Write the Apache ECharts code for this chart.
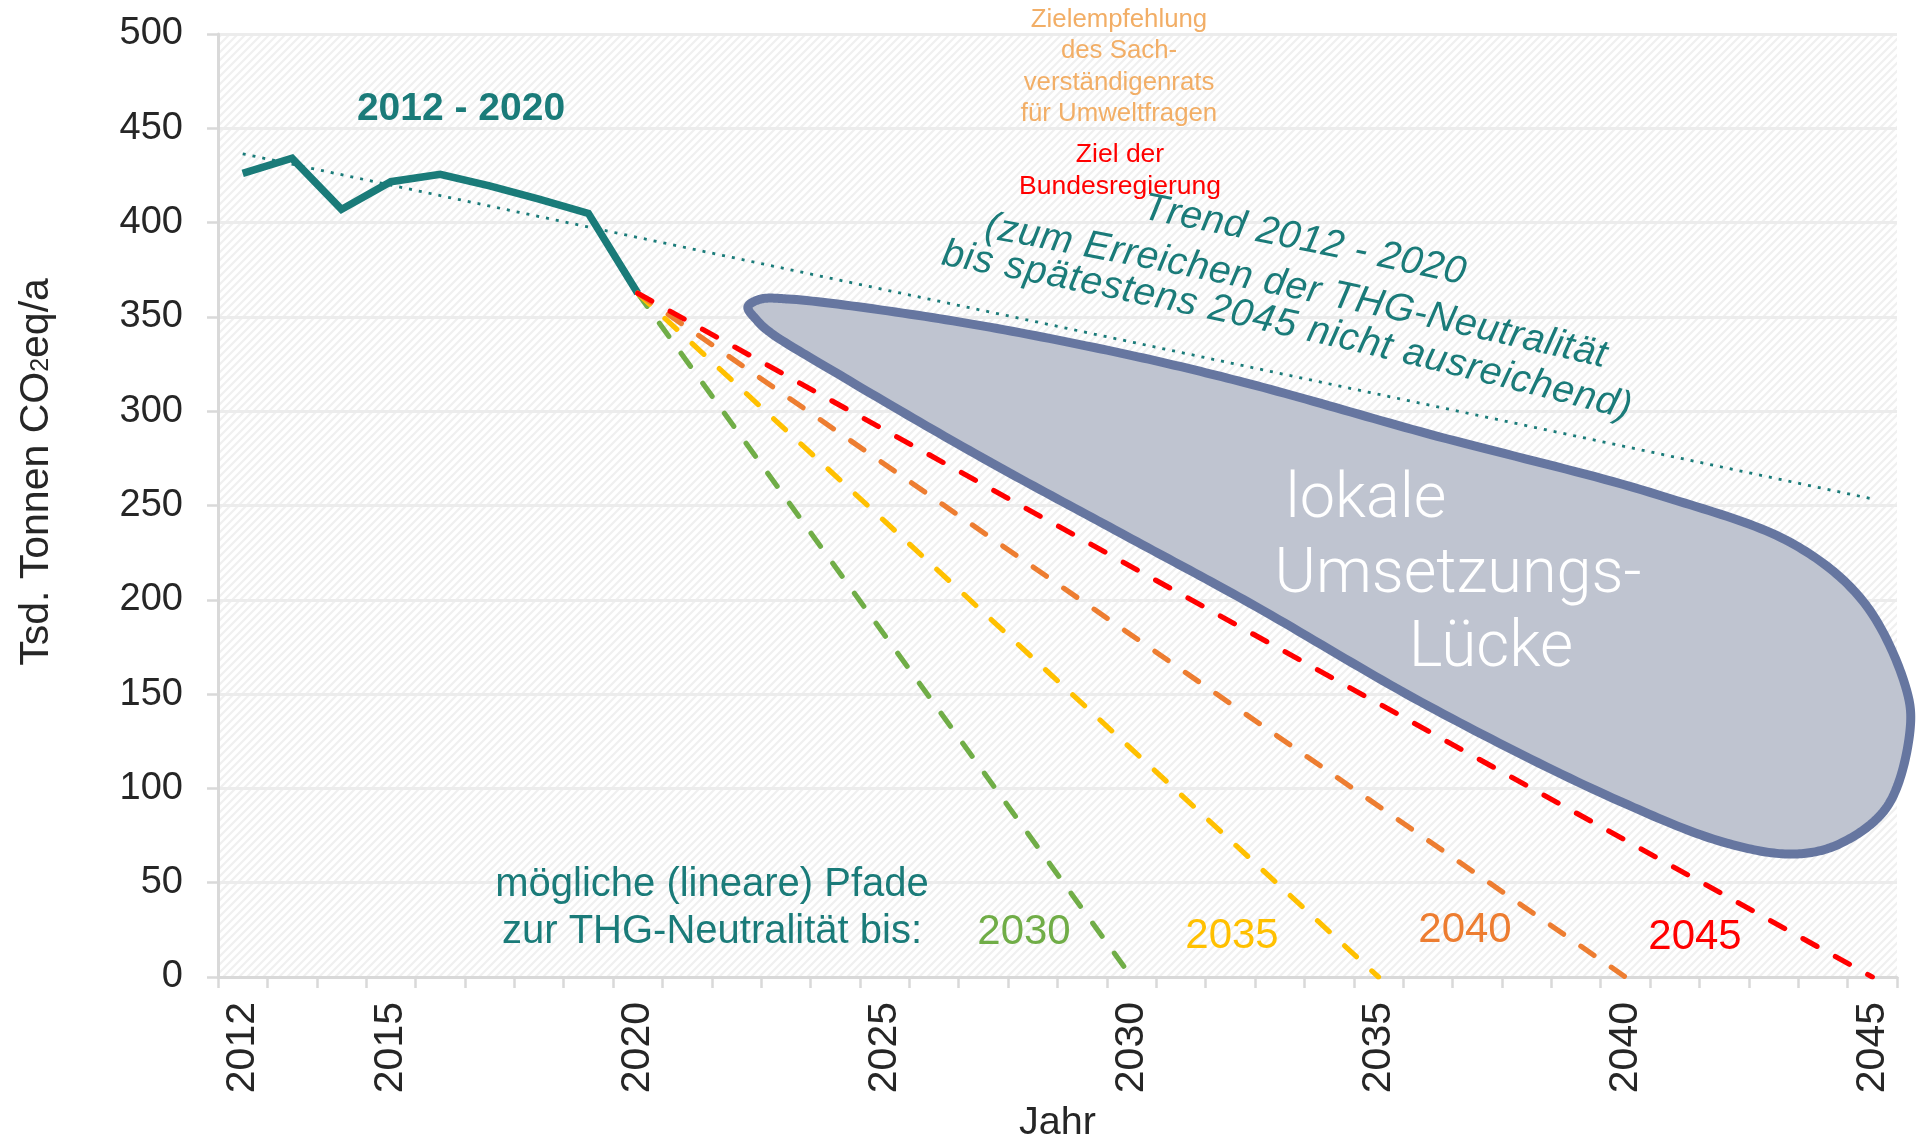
<!DOCTYPE html>
<html>
<head>
<meta charset="utf-8">
<script src="https://cdn.jsdelivr.net/npm/echarts@6/dist/echarts.min.js"></script>
<style>
  html, body { margin: 0; padding: 0; background: #ffffff; }
  #chart { width: 1919px; height: 1145px; }
</style>
</head>
<body>
<div id="chart"></div>
<script>
// ---- data -------------------------------------------------------------
const years = ['2012','2013','2014','2015','2016','2017','2018','2019','2020',
  '2021','2022','2023','2024','2025','2026','2027','2028','2029','2030',
  '2031','2032','2033','2034','2035','2036','2037','2038','2039','2040',
  '2041','2042','2043','2044','2045'];
const yearLabels = ['2012','2015','2020','2025','2030','2035','2040','2045'];

// emissions 2012 - 2020 (Tsd. t CO2eq/a)
const histYears  = ['2012','2013','2014','2015','2016','2017','2018','2019','2020'];
const histValues = [426.1, 434.1, 407.0, 421.7, 425.6, 419.5, 412.5, 404.9, 362.5];

// linear trend of 2012 - 2020, drawn to 2045
const trendYears  = ['2012', '2045'];
const trendValues = [436.5, 253.5];

// linear paths from 2020 to zero
const pathStartYear  = '2020';
const pathStartValue = 362.5;
const pathEndYears   = ['2030', '2035', '2040', '2045'];
const pathColors     = ['#70ad47', '#ffc000', '#ed7d31', '#ff0000'];

// outline of the "Umsetzungs-Lücke" area (year, value)
const gapYears  = [2022.23, 2022.47, 2023.04, 2026.24, 2029.78, 2032.39, 2036.01, 2040.67,
  2043.44, 2044.84, 2045.67, 2045.77, 2045.31, 2044.37, 2043.44, 2042.05, 2039.74,
  2036.01, 2032.39, 2029.78, 2026.95, 2024.09, 2022.67, 2022.41];
const gapValues = [355.3, 359.3, 359.5, 348.5, 330.8, 314.5, 288.0, 255.6,
  229.0, 198.3, 154.3, 132.6, 90.7, 71.0, 65.2, 71.0, 94.9,
  143.7, 198.3, 235.4, 275.7, 319.2, 342.0, 348.3];

// ---- styling ----------------------------------------------------------
const TEAL = '#1a7b79';
const AXIS_GREY = '#d9d9d9';
const TXT = '#262626';
const FONT = '"Liberation Sans", Arial, sans-serif';
const LIGHT_FONT = 'Roboto, "Open Sans", sans-serif';

// light diagonal hatching for the plot background
const hatch = document.createElement('canvas');
hatch.width = 8; hatch.height = 8;
(function () {
  const g = hatch.getContext('2d');
  g.fillStyle = '#ffffff'; g.fillRect(0, 0, 8, 8);
  g.strokeStyle = '#f0f0f0'; g.lineWidth = 2.2;
  g.beginPath();
  g.moveTo(-1, 9); g.lineTo(9, -1);
  g.moveTo(-5, 5); g.lineTo(5, -5);
  g.moveTo(3, 13); g.lineTo(13, 3);
  g.stroke();
})();

// closed centripetal Catmull-Rom spline, sampled into a polygon
function splinePolygon(P, samples) {
  const n = P.length, out = [];
  const d = (a, b) => Math.max(Math.sqrt(Math.hypot(b[0] - a[0], b[1] - a[1])), 1e-6);
  for (let i = 0; i < n; i++) {
    const p0 = P[(i - 1 + n) % n], p1 = P[i], p2 = P[(i + 1) % n], p3 = P[(i + 2) % n];
    const d1 = d(p0, p1), d2 = d(p1, p2), d3 = d(p2, p3);
    const b1 = [0, 1].map(k => (d1 * d1 * p2[k] - d2 * d2 * p0[k] + (2 * d1 * d1 + 3 * d1 * d2 + d2 * d2) * p1[k]) / (3 * d1 * (d1 + d2)));
    const b2 = [0, 1].map(k => (d3 * d3 * p1[k] - d2 * d2 * p3[k] + (2 * d3 * d3 + 3 * d3 * d2 + d2 * d2) * p2[k]) / (3 * d3 * (d3 + d2)));
    for (let s = 0; s < samples; s++) {
      const t = s / samples, u = 1 - t;
      out.push([0, 1].map(k => u * u * u * p1[k] + 3 * u * u * t * b1[k] + 3 * u * t * t * b2[k] + t * t * t * p2[k]));
    }
  }
  return out;
}

// text set character by character along a quadratic curve (baseline)
const measureCtx = document.createElement('canvas').getContext('2d');
function textOnCurve(str, p0, c, p2, font, fontSize, color) {
  const N = 300, pts = [], cum = [0];
  for (let i = 0; i <= N; i++) {
    const t = i / N, u = 1 - t;
    pts.push([u * u * p0[0] + 2 * u * t * c[0] + t * t * p2[0], u * u * p0[1] + 2 * u * t * c[1] + t * t * p2[1]]);
    if (i) cum.push(cum[i - 1] + Math.hypot(pts[i][0] - pts[i - 1][0], pts[i][1] - pts[i - 1][1]));
  }
  const L = cum[N];
  measureCtx.font = font;
  const chars = Array.from(str);
  const w = chars.map(ch => measureCtx.measureText(ch).width);
  const W = w.reduce((a, b) => a + b, 0);
  const gap = (L - W) / (chars.length - 1);
  const els = [];
  let s = 0;
  chars.forEach((ch, i) => {
    const sc = s + w[i] / 2;
    s += w[i] + gap;
    if (ch === ' ') return;
    let j = 1;
    while (j < N && cum[j] < sc) j++;
    const a = pts[j - 1], b = pts[j];
    const f = (sc - cum[j - 1]) / Math.max(cum[j] - cum[j - 1], 1e-6);
    const bx = a[0] + (b[0] - a[0]) * f, by = a[1] + (b[1] - a[1]) * f;
    const len = Math.hypot(b[0] - a[0], b[1] - a[1]);
    const tx = (b[0] - a[0]) / len, ty = (b[1] - a[1]) / len;
    const off = 0.35 * fontSize;
    els.push({
      type: 'text', z: 50,
      x: bx + ty * off, y: by - tx * off,
      rotation: -Math.atan2(ty, tx),
      style: { text: ch, font: font, fill: color, align: 'center', verticalAlign: 'middle' }
    });
  });
  return els;
}

// ---- series -----------------------------------------------------------
const series = [];

series.push({
  name: 'Trend', type: 'line', z: 2, silent: true,
  data: trendYears.map((y, i) => [y, trendValues[i]]),
  showSymbol: false, symbol: 'none',
  lineStyle: { color: TEAL, width: 2.8, type: [3, 7] }
});

series.push({
  name: '2012 - 2020', type: 'line', z: 3, silent: true,
  data: histYears.map((y, i) => [y, histValues[i]]),
  showSymbol: false, symbol: 'none',
  lineStyle: { color: TEAL, width: 7.5, join: 'miter' }
});

pathEndYears.forEach((endYear, i) => {
  series.push({
    name: 'Pfad ' + endYear, type: 'line', z: 4 + i, silent: true,
    data: [[pathStartYear, pathStartValue], [endYear, 0]],
    showSymbol: false, symbol: 'none',
    lineStyle: { color: pathColors[i], width: 5.2, type: [16, 21], cap: 'round' }
  });
});

series.push({
  name: 'Umsetzungslücke', type: 'custom', z: 9, silent: true, clip: false,
  xAxisIndex: 1, yAxisIndex: 0,
  data: gapYears.map((y, i) => [y, gapValues[i]]),
  encode: { x: 0, y: 1 },
  renderItem: function (params, api) {
    if (params.dataIndex !== 0) return null;
    const pts = gapYears.map((y, i) => api.coord([y, gapValues[i]]));
    return {
      type: 'polygon',
      shape: { points: splinePolygon(pts, 24) },
      style: { fill: '#bfc4d0', stroke: '#6676a0', lineWidth: 9, lineJoin: 'round' }
    };
  }
});

// ---- annotations ------------------------------------------------------
const graphics = [
  { type: 'rect', z: -10, silent: true,
    shape: { x: 218, y: 34, width: 1679, height: 943 },
    style: { fill: { image: hatch, repeat: 'repeat' } } },

  { type: 'text', z: 50, x: 37, y: 472, rotation: Math.PI / 2,
    style: { text: 'Tsd. Tonnen CO{sub|2}eq/a', fontSize: 41, fontFamily: FONT, fill: TXT,
      align: 'center', verticalAlign: 'middle', lineHeight: 44,
      rich: { sub: { fontSize: 25, fontFamily: FONT, fill: TXT, padding: [8, 0, 0, 0] } } } },

  { type: 'text', z: 50, x: 461, y: 109,
    style: { text: '2012 - 2020', font: 'bold 39px ' + FONT, fill: TEAL, align: 'center', verticalAlign: 'middle' } },

  { type: 'text', z: 50, x: 1119, y: 67,
    style: { text: 'Zielempfehlung\ndes Sach-\nverständigenrats\nfür Umweltfragen', fontSize: 25.8, fontFamily: FONT,
      lineHeight: 31.5, fill: '#f2ae66', align: 'center', verticalAlign: 'middle' } },

  { type: 'text', z: 50, x: 1120, y: 171,
    style: { text: 'Ziel der\nBundesregierung', fontSize: 26.5, fontFamily: FONT,
      lineHeight: 32, fill: '#ff0000', align: 'center', verticalAlign: 'middle' } },

  { type: 'text', z: 50, x: 712, y: 908,
    style: { text: 'mögliche (lineare) Pfade\nzur THG-Neutralität bis:', fontSize: 40, fontFamily: FONT,
      lineHeight: 47, fill: TEAL, align: 'center', verticalAlign: 'middle' } },

  { type: 'text', z: 50, x: 1024, y: 932,
    style: { text: '2030', fontSize: 42, fontFamily: FONT, fill: pathColors[0], align: 'center', verticalAlign: 'middle' } },
  { type: 'text', z: 50, x: 1232, y: 936,
    style: { text: '2035', fontSize: 42, fontFamily: FONT, fill: pathColors[1], align: 'center', verticalAlign: 'middle' } },
  { type: 'text', z: 50, x: 1465, y: 930,
    style: { text: '2040', fontSize: 42, fontFamily: FONT, fill: pathColors[2], align: 'center', verticalAlign: 'middle' } },
  { type: 'text', z: 50, x: 1695, y: 937,
    style: { text: '2045', fontSize: 42, fontFamily: FONT, fill: pathColors[3], align: 'center', verticalAlign: 'middle' } },

  { type: 'text', z: 60, x: 1366, y: 501,
    style: { text: 'lokale', fontSize: 63, fontWeight: 300, fontFamily: LIGHT_FONT, fill: '#ffffff', align: 'center', verticalAlign: 'middle' } },
  { type: 'text', z: 60, x: 1458, y: 576,
    style: { text: 'Umsetzungs-', fontSize: 63, fontWeight: 300, fontFamily: LIGHT_FONT, fill: '#ffffff', align: 'center', verticalAlign: 'middle' } },
  { type: 'text', z: 60, x: 1491, y: 650,
    style: { text: 'Lücke', fontSize: 64, fontWeight: 300, fontFamily: LIGHT_FONT, fill: '#ffffff', align: 'center', verticalAlign: 'middle' } }
];

const trendFont = 'italic 39px ' + FONT;
graphics.push({ type: 'group', children:
  textOnCurve('Trend 2012 - 2020', [1141, 221], [1301, 252], [1462, 287], trendFont, 39, TEAL)
  .concat(textOnCurve('(zum Erreichen der THG-Neutralität', [983, 240], [1295, 297], [1603, 370], trendFont, 39, TEAL))
  .concat(textOnCurve('bis spätestens 2045 nicht ausreichend)', [940, 267], [1290, 333], [1627, 422], trendFont, 39, TEAL))
});

// ---- chart ------------------------------------------------------------
const chart = echarts.init(document.getElementById('chart'));
chart.setOption({
  animation: false,
  backgroundColor: '#ffffff',
  grid: { left: 218, right: 22, top: 34, bottom: 168, containLabel: false, outerBoundsMode: 'none' },
  xAxis: [
    {
      type: 'category', data: years, boundaryGap: true,
      axisLine: { show: true, lineStyle: { color: AXIS_GREY, width: 3 } },
      axisTick: { show: true, interval: 0, length: 11, lineStyle: { color: AXIS_GREY, width: 2.5 } },
      axisLabel: {
        rotate: 90, margin: 25, fontSize: 41, fontFamily: FONT, color: TXT,
        interval: (idx, value) => yearLabels.indexOf(value) >= 0
      },
      splitLine: { show: false },
      name: 'Jahr', nameLocation: 'middle', nameGap: 126,
      nameTextStyle: { fontSize: 39.5, fontFamily: FONT, color: TXT }
    },
    { type: 'value', min: 2011.5, max: 2045.5, show: false }
  ],
  yAxis: {
    type: 'value', min: 0, max: 500, interval: 50,
    axisLine: { show: true, lineStyle: { color: AXIS_GREY, width: 3 } },
    axisTick: { show: true, length: 11, lineStyle: { color: AXIS_GREY, width: 2.5 } },
    axisLabel: { margin: 35, fontSize: 38, fontFamily: FONT, color: TXT },
    splitLine: { show: true, lineStyle: { color: '#ececec', width: 3 } }
  },
  series: series,
  graphic: graphics
});
</script>
</body>
</html>
